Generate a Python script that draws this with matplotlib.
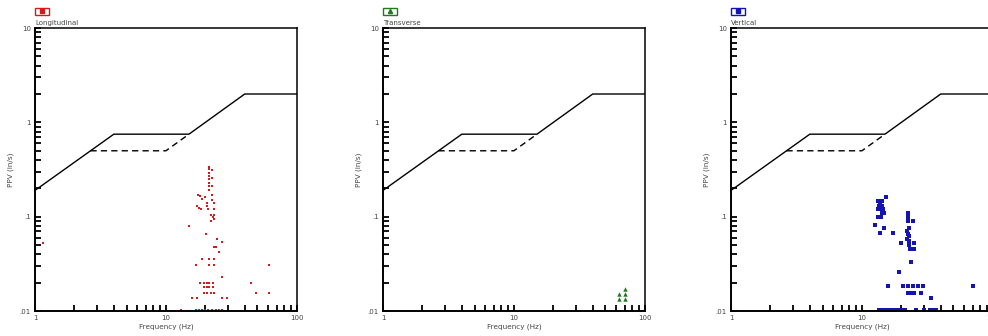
"""
Peak particle velocity vs. frequency, one panel per geophone channel,
plotted against the USBM RI 8507 criteria.
"""

import numpy as np
import matplotlib
matplotlib.use("Agg")
import matplotlib.pyplot as plt
from matplotlib.patches import Rectangle
from matplotlib.ticker import FixedLocator, FixedFormatter, LogLocator, NullFormatter


# ==========================================================
# CRITERIA CURVES
# ==========================================================

USBM_FREQ = [1.0, 4.0, 15.0, 40.0, 100.0]
USBM_PPV = [0.19, 0.75, 0.75, 2.0, 2.0]

PLASTER_FREQ = [2.65, 10.0, 15.0]
PLASTER_PPV = [0.5, 0.5, 0.75]


# ==========================================================
# EVENT DATA
# ==========================================================

LONG_FREQ = [
    1.15, 15.0,
    21.5, 21.5, 21.5, 21.5, 21.5, 21.5, 21.5, 21.5,
    22.5, 22.5, 22.5, 22.5, 22.5,
    23.5, 23.5, 23.5, 23.5,
    17.5, 18.3, 19.0, 19.8, 20.5,
    17.2, 17.8, 18.5, 20.5, 21.0,
    22.0, 22.8, 22.0,
    20.3, 24.5, 26.7, 23.2, 24.2, 25.5,
    19.0, 21.5, 23.5,
    17.0, 21.5, 23.5, 61.0,
    27.0,
    18.3, 19.5, 20.5, 21.5, 23.0, 45.0,
    19.5, 20.5, 21.5, 23.0,
    19.5, 20.5, 22.0, 23.5, 49.0, 61.0,
    15.7, 17.4, 26.6, 29.5,
    13.0, 17.0, 18.0, 19.0, 20.0, 21.0, 22.5, 24.0, 25.5, 27.0,
]
LONG_PPV = [
    0.052, 0.079,
    0.34, 0.32, 0.29, 0.27, 0.25, 0.23, 0.21, 0.19,
    0.31, 0.26, 0.21, 0.17, 0.15,
    0.14, 0.12, 0.105, 0.095,
    0.17, 0.165, 0.155, 0.16, 0.14,
    0.13, 0.125, 0.12, 0.13, 0.12,
    0.105, 0.10, 0.09,
    0.065, 0.058, 0.054, 0.048, 0.048, 0.042,
    0.036, 0.036, 0.036,
    0.031, 0.031, 0.031, 0.031,
    0.023,
    0.020, 0.020, 0.020, 0.020, 0.020, 0.020,
    0.018, 0.018, 0.018, 0.018,
    0.0155, 0.0155, 0.0155, 0.0155, 0.0155, 0.0155,
    0.0137, 0.0137, 0.0137, 0.0137,
    0.0102, 0.0102, 0.0102, 0.0102, 0.0102, 0.0102, 0.0102, 0.0102, 0.0102, 0.0102,
]

TRAN_FREQ = [63.0, 63.0, 70.0, 70.0, 70.0]
TRAN_PPV = [0.0151, 0.0134, 0.0172, 0.0151, 0.0134]

VERT_FREQ = [
    15.2, 13.2, 13.7, 14.2, 13.5, 14.2, 13.2, 13.9, 14.6, 14.2, 14.0, 13.3, 14.7,
    12.6, 14.7, 13.7, 17.2, 19.9,
    22.3, 22.3, 22.3, 24.5, 22.8, 22.0, 22.5, 23.0, 22.0, 22.8, 23.0, 25.0, 23.2, 25.0,
    23.6, 19.2,
    15.8, 20.5, 22.6, 24.5, 26.8, 29.3, 70.0,
    22.5, 23.5, 24.8, 28.2,
    33.6,
    13.5, 14.5, 15.5, 16.5, 17.5, 18.5, 19.5, 20.5, 21.5, 26.0, 30.0, 33.0, 35.0, 37.0,
]
VERT_PPV = [
    0.16, 0.145, 0.14, 0.145, 0.13, 0.13, 0.12, 0.12, 0.12, 0.11, 0.10, 0.10, 0.11,
    0.082, 0.075, 0.067, 0.067, 0.052,
    0.11, 0.10, 0.09, 0.09, 0.075, 0.07, 0.065, 0.062, 0.058, 0.055, 0.05, 0.053, 0.046, 0.045,
    0.033, 0.026,
    0.0185, 0.0185, 0.0185, 0.0185, 0.0185, 0.0185, 0.0185,
    0.0155, 0.0155, 0.0155, 0.0155,
    0.0136,
    0.0102, 0.0102, 0.0102, 0.0102, 0.0102, 0.0102, 0.0102, 0.0102, 0.0102, 0.0102,
    0.0102, 0.0102, 0.0102, 0.0102,
]

CHANNELS = [
    ("Longitudinal", LONG_FREQ, LONG_PPV, "#d41a1a", "s", 1.7),
    ("Transverse", TRAN_FREQ, TRAN_PPV, "#1f7a1f", "^", 3.2),
    ("Vertical", VERT_FREQ, VERT_PPV, "#1414b4", "s", 2.3),
]


# ==========================================================
# PANEL
# ==========================================================

TEXT_COLOR = "#444444"
FONT_SIZE = 5.0


def draw_panel(fig, left, name, freq, ppv, color, marker, size):

    ax = fig.add_axes([left, 0.0744, 0.265, 0.842])

    ax.set_xscale("log")
    ax.set_yscale("log")
    ax.set_xlim(1, 100)
    ax.set_ylim(0.01, 10)

    ax.plot(USBM_FREQ, USBM_PPV, color="black", linewidth=1.0)
    ax.plot(
        PLASTER_FREQ,
        PLASTER_PPV,
        color="black",
        linewidth=1.0,
        linestyle=(0, (4.5, 3)),
    )

    ax.plot(
        freq,
        ppv,
        linestyle="none",
        marker=marker,
        markersize=size,
        color=color,
        markeredgewidth=0,
    )

    # ticks: inward, left and bottom only
    ax.xaxis.set_major_locator(FixedLocator([1, 10, 100]))
    ax.xaxis.set_major_formatter(FixedFormatter(["1", "10", "100"]))
    ax.yaxis.set_major_locator(FixedLocator([0.01, 0.1, 1, 10]))
    ax.yaxis.set_major_formatter(FixedFormatter([".01", ".1", "1", "10"]))
    ax.xaxis.set_minor_locator(LogLocator(base=10, subs=np.arange(2, 10)))
    ax.yaxis.set_minor_locator(LogLocator(base=10, subs=np.arange(2, 10)))
    ax.xaxis.set_minor_formatter(NullFormatter())
    ax.yaxis.set_minor_formatter(NullFormatter())

    ax.tick_params(
        which="both",
        direction="in",
        top=False,
        right=False,
        length=4.5,
        width=1.3,
        labelsize=FONT_SIZE,
        labelcolor=TEXT_COLOR,
        pad=3,
    )

    for spine in ax.spines.values():
        spine.set_linewidth(1.1)
    ax.spines["left"].set_linewidth(1.4)
    ax.spines["bottom"].set_linewidth(1.4)

    ax.set_xlabel("Frequency (Hz)", fontsize=FONT_SIZE + 0.2, color=TEXT_COLOR, labelpad=2)
    ax.set_ylabel("PPV (in/s)", fontsize=FONT_SIZE + 0.2, color=TEXT_COLOR, labelpad=4)

    # small legend key above the frame
    box_x = left
    box_y = 0.955
    fig.add_artist(
        Rectangle(
            (box_x, box_y),
            0.0145,
            0.022,
            transform=fig.transFigure,
            facecolor="white",
            edgecolor=color,
            linewidth=1.0,
        )
    )
    fig.add_artist(
        plt.Line2D(
            [box_x + 0.00725],
            [box_y + 0.011],
            transform=fig.transFigure,
            marker=marker,
            markersize=3,
            color=color,
            linestyle="none",
        )
    )
    fig.text(
        left,
        0.933,
        name,
        fontsize=FONT_SIZE,
        color=TEXT_COLOR,
        ha="left",
        va="center",
    )

    return ax


# ==========================================================
# MAIN
# ==========================================================

def main():

    fig = plt.figure(figsize=(9.88, 3.36), dpi=100)

    lefts = [35 / 988, 383 / 988, 731 / 988]

    for left, (name, freq, ppv, color, marker, size) in zip(lefts, CHANNELS):
        draw_panel(fig, left, name, freq, ppv, color, marker, size)

    fig.savefig("out.png", dpi=100, facecolor="white")


if __name__ == "__main__":
    main()
